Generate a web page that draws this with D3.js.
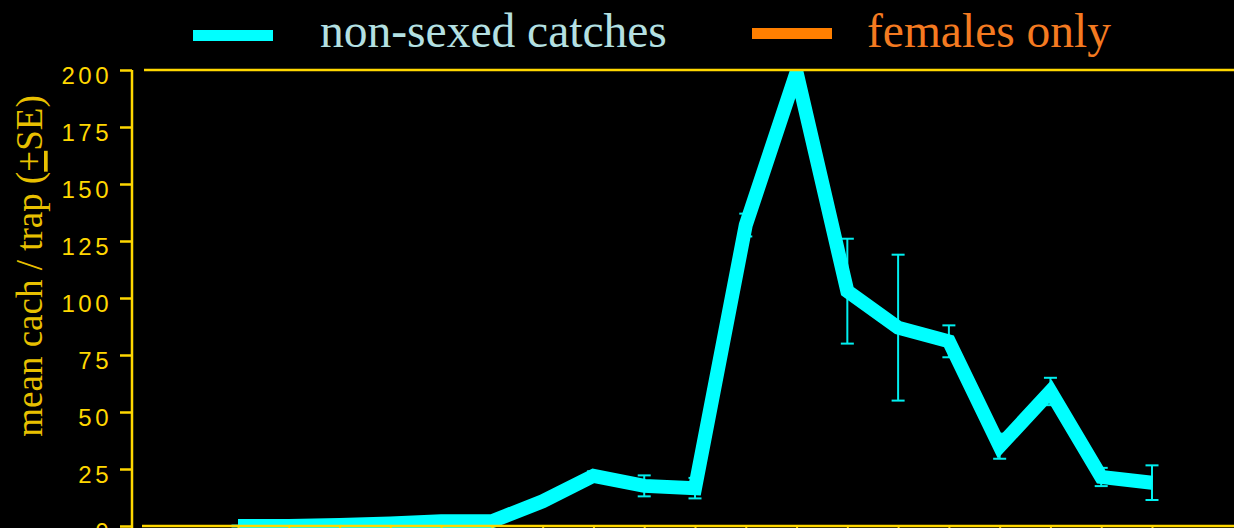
<!DOCTYPE html>
<html>
<head>
<meta charset="utf-8">
<script src="https://cdn.jsdelivr.net/npm/d3@7"></script>
<style>
  html, body { margin: 0; padding: 0; background: #000; }
  svg { display: block; }
</style>
</head>
<body>
<div id="chart"></div>
<script>
// sampling periods (x labels are cut off in the picture, so just numbered)
var periods = [1, 2, 3, 4, 5, 6, 7, 8, 9, 10, 11, 12, 13, 14, 15, 16, 17, 18, 19];
// mean catch per trap, non-sexed
var meanCatch = [0, 0, 0.4, 1.1, 2.1, 2.1, 10.8, 22, 17.6, 16.6, 132, 199, 103, 87, 81, 35, 59, 21.5, 19];
// standard errors
var seCatch = [0.2, 0.2, 0.3, 0.4, 0.6, 0.6, 1.5, 2, 4.6, 4.5, 5, 9, 23, 32, 7, 5.5, 6, 4, 7.6];
var yTicks = [0, 25, 50, 75, 100, 125, 150, 175, 200];
var legendNames = ["non-sexed catches", "females only"];

var width = 1234,
  height = 528;
var gold = "#ffd700";

var svg = d3.select("#chart")
  .append("svg")
  .attr("width", width)
  .attr("height", height)
  .style("background", "#000");

var x = d3.scaleLinear()
  .domain([1, 19])
  .range([238, 1152]);

var y = d3.scaleLinear()
  .domain([0, 200])
  .range([526, 70]);

svg.append("clipPath").attr("id", "plotclip")
  .append("rect")
  .attr("x", 142).attr("y", y(200))
  .attr("width", width).attr("height", 600);

var plot = svg.append("g").attr("clip-path", "url(#plotclip)");

// error bars first, the thick line sits on top of them
var bars = plot.selectAll("g.err")
  .data(periods)
  .enter()
  .append("g")
  .attr("class", "err")
  .attr("stroke", "#00f0f0")
  .attr("stroke-width", 2);

bars.append("line")
  .attr("x1", function(d, i) { return x(d) })
  .attr("x2", function(d, i) { return x(d) })
  .attr("y1", function(d, i) { return y(meanCatch[i] + seCatch[i]) })
  .attr("y2", function(d, i) { return y(meanCatch[i] - seCatch[i]) });

bars.append("line") //top cap
  .attr("x1", function(d) { return x(d) - 6.5 })
  .attr("x2", function(d) { return x(d) + 6.5 })
  .attr("y1", function(d, i) { return y(meanCatch[i] + seCatch[i]) })
  .attr("y2", function(d, i) { return y(meanCatch[i] + seCatch[i]) });

bars.append("line") //bottom cap
  .attr("x1", function(d) { return x(d) - 6.5 })
  .attr("x2", function(d) { return x(d) + 6.5 })
  .attr("y1", function(d, i) { return y(meanCatch[i] - seCatch[i]) })
  .attr("y2", function(d, i) { return y(meanCatch[i] - seCatch[i]) });

var line = d3.line()
  .x(function(d, i) { return x(periods[i]) })
  .y(function(d) { return y(d) });

plot.append("path")
  .datum(meanCatch)
  .attr("d", line)
  .attr("fill", "none")
  .attr("stroke", "#00ffff")
  .attr("stroke-width", 14)
  .attr("stroke-linejoin", "miter")
  .attr("stroke-linecap", "butt");

// frame lines
svg.append("line")
  .attr("x1", 144).attr("x2", width)
  .attr("y1", y(200)).attr("y2", y(200))
  .attr("stroke", gold).attr("stroke-width", 2.5);

var xAxis = svg.append("g")
  .attr("transform", "translate(0," + y(0) + ")")
  .call(d3.axisBottom(x).tickValues(periods).tickSize(8).tickFormat(""));
xAxis.select(".domain")
  .attr("d", "M142,0H" + width)
  .attr("stroke", gold).attr("stroke-width", 2.5);
xAxis.selectAll(".tick line").attr("stroke", gold).attr("stroke-width", 2);

// y axis, offset from the plot frame
var yAxis = svg.append("g")
  .attr("transform", "translate(132,0)")
  .call(d3.axisLeft(y).tickValues(yTicks).tickSize(12).tickSizeOuter(0).tickPadding(0));
yAxis.select(".domain")
  .attr("d", "M0," + y(200) + "V" + height)
  .attr("stroke", gold).attr("stroke-width", 2.5);
yAxis.selectAll(".tick line").attr("stroke", gold).attr("stroke-width", 2.5);
yAxis.selectAll(".tick text")
  .attr("x", -20)
  .attr("dy", "13.5")
  .attr("fill", gold)
  .attr("font-family", "'Liberation Sans', Arial, sans-serif")
  .attr("font-size", "24px")
  .attr("letter-spacing", "3.5px");

var ylab = svg.append("text")
  .attr("transform", "translate(42,266) rotate(-90)")
  .attr("text-anchor", "middle")
  .attr("font-family", "'Liberation Serif', 'Times New Roman', serif")
  .attr("font-size", "37px")
  .attr("fill", "#e8c000");
ylab.append("tspan").text("mean cach / trap (");
ylab.append("tspan").text("+").style("text-decoration", "underline");
ylab.append("tspan").text("SE)");

// legend
var legendColors = ["#00ffff", "#ff7f00"];
var legendText = ["#b4e0e2", "#f47a20"];
var legendX = [193, 752];
var legendY = [30, 28];
var legendTextX = [320, 867];

var leg = svg.selectAll("g.leg")
  .data(legendNames)
  .enter()
  .append("g")
  .attr("class", "leg");

leg.append("rect")
  .attr("x", function(d, i) { return legendX[i] })
  .attr("y", function(d, i) { return legendY[i] })
  .attr("width", 80)
  .attr("height", 11)
  .attr("fill", function(d, i) { return legendColors[i] });

leg.append("text")
  .attr("x", function(d, i) { return legendTextX[i] })
  .attr("y", 47)
  .attr("font-family", "'Liberation Serif', 'Times New Roman', serif")
  .attr("font-size", "47.5px")
  .attr("fill", function(d, i) { return legendText[i] })
  .text(function(d) { return d });
</script>
</body>
</html>
